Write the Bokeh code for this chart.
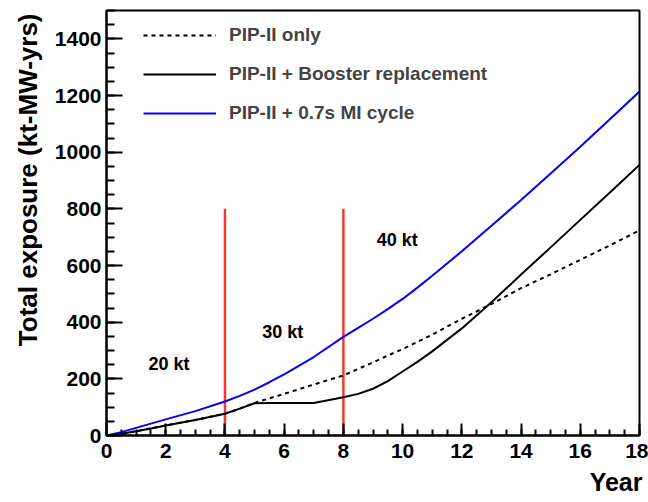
from bokeh.plotting import figure
from bokeh.models import (Range1d, SingleIntervalTicker, Legend, LegendItem,
                          Title, LabelSet, ColumnDataSource)
from bokeh.core.properties import value
from bokeh.embed import file_html
from bokeh.resources import INLINE

# ---- data ----
years = [0, 0.5, 1, 1.5, 2, 3, 4, 4.5, 5, 5.5, 6, 7, 8, 8.5, 9, 9.5, 10,
         10.5, 11, 12, 13, 14, 15, 16, 17, 18]
pip2_only = [0, 6, 15, 25, 35, 55, 77, 95, 115, 131, 147, 180, 212, 235,
             258, 282, 305, 330, 356, 412, 464, 520, 569, 620, 671, 724]
booster_repl = [0, 6, 15, 25, 35, 55, 77, 95, 114, 115, 115, 115, 135, 147,
                165, 192, 226, 260, 297, 378, 470, 568, 664, 761, 858, 955]
mi_cycle = [0, 12, 27, 42, 57, 86, 120, 140, 162, 188, 216, 277, 348, 380,
            412, 446, 482, 522, 564, 650, 740, 831, 925, 1019, 1116, 1214]

transition_years = [4, 8]
transition_top = [800, 800]

mass_labels = ["20 kt", "30 kt", "40 kt"]
mass_x = [2.11, 5.95, 9.82]
mass_y = [253, 364, 690]

series_names = ["PIP-II only", "PIP-II + Booster replacement", "PIP-II + 0.7s MI cycle"]
x_title = "Year"
y_title = "Total exposure (kt-MW-yrs)"

FONT = "Liberation Sans"

p = figure(width=648, height=502, output_backend="svg", toolbar_location=None,
           x_range=Range1d(0, 18), y_range=Range1d(0, 1500),
           min_border_left=106, min_border_right=9, min_border_top=10,
           min_border_bottom=67)
p.grid.visible = False
p.outline_line_color = "black"
p.outline_line_width = 2
p.background_fill_color = "white"
p.border_fill_color = "white"

# axes
p.xaxis.ticker = SingleIntervalTicker(interval=2, num_minor_ticks=4)
p.yaxis.ticker = SingleIntervalTicker(interval=200, num_minor_ticks=4)
for ax in (p.xaxis[0], p.yaxis[0]):
    ax.axis_line_width = 2
    ax.axis_line_color = "black"
    ax.major_tick_line_width = 2
    ax.minor_tick_line_width = 2
    ax.major_tick_out = 0
    ax.minor_tick_out = 0
    ax.major_label_text_font = FONT
    ax.major_label_text_font_style = "bold"
    ax.major_label_text_font_size = "21px"
    ax.major_label_text_color = "black"
p.xaxis.major_label_standoff = 8
p.yaxis.major_label_standoff = 5
p.xaxis.major_tick_in = 12
p.xaxis.minor_tick_in = 6
p.yaxis.major_tick_in = 16
p.yaxis.minor_tick_in = 8

# vertical transitions
src_t = ColumnDataSource(dict(x=transition_years, y0=[0] * len(transition_years), y1=transition_top))
p.segment(x0="x", y0="y0", x1="x", y1="y1", source=src_t, line_color="#f23a2e", line_width=2.5)

# curves
r1 = p.line(years, pip2_only, line_color="black", line_width=2, line_dash="4 4")
r2 = p.line(years, booster_repl, line_color="black", line_width=2)
r3 = p.line(years, mi_cycle, line_color="#0000ff", line_width=2)

legend = Legend(items=[LegendItem(label=series_names[0], renderers=[r1]),
                       LegendItem(label=series_names[1], renderers=[r2]),
                       LegendItem(label=series_names[2], renderers=[r3])],
                location=(37, 308), padding=0, margin=0, spacing=11,
                glyph_width=73, glyph_height=20, label_height=28,
                label_standoff=13, label_text_font=FONT,
                label_text_font_style="bold", label_text_font_size="19px",
                background_fill_alpha=0, border_line_alpha=0)
p.add_layout(legend)

# detector mass labels
src_m = ColumnDataSource(dict(x=mass_x, y=mass_y, t=mass_labels))
p.add_layout(LabelSet(x="x", y="y", text="t", source=src_m, text_align="center",
                      text_baseline="middle", text_font=value(FONT),
                      text_font_style="bold", text_font_size="18px",
                      text_color="black", background_fill_color="#f7f7f7"))

# axis titles (right/top aligned, ROOT style)
p.add_layout(Title(text=y_title, align="right", text_font=FONT, text_font_style="bold",
                   text_font_size="26px", text_color="black", standoff=18, offset=3), "left")
p.add_layout(Title(text=x_title, align="right", text_font=FONT, text_font_style="bold",
                   text_font_size="25px", text_color="black", standoff=11, offset=-3), "below")

open("out.html", "w").write(file_html(p, INLINE))
